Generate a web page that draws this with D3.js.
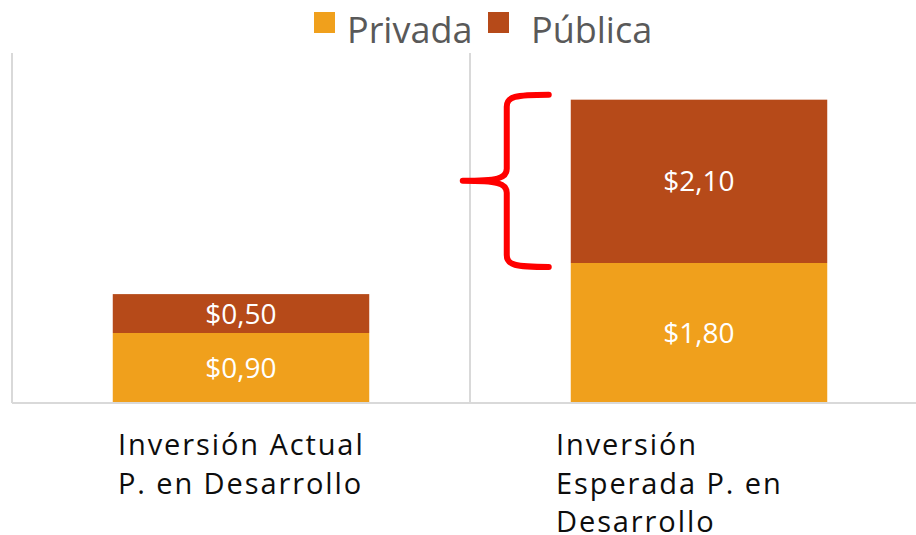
<!DOCTYPE html>
<html>
<head>
<meta charset="utf-8">
<script src="https://cdn.jsdelivr.net/npm/d3@7"></script>
<style>
  body { margin: 0; background: #fff; }
  text { font-family: "Open Sans", sans-serif; }
</style>
</head>
<body>
<svg id="chart"></svg>
<script>
// Chart data
const categories = ["Inversión Actual P. en Desarrollo", "Inversión Esperada P. en Desarrollo"];
const categoryLines = [
  ["Inversión Actual", "P. en Desarrollo"],
  ["Inversión", "Esperada P. en", "Desarrollo"]
];
const seriesNames = ["Privada", "Pública"];
const privada = [0.90, 1.80];
const publica = [0.50, 2.10];
const seriesColors = ["#F0A01C", "#B64A19"];

const width = 916;
const height = 535;
const margin = { top: 53, right: -12, bottom: 132, left: 12 };

const svg = d3.select("#chart")
  .attr("width", width)
  .attr("height", height);

const x = d3.scaleBand()
  .domain(categories)
  .range([margin.left, width - margin.right])
  .padding(0);

const y = d3.scaleLinear()
  .domain([0, 4.5])
  .range([height - margin.bottom, margin.top]);

const barWidth = x.bandwidth() * 0.56;
const fmt = v => "$" + v.toFixed(2).replace(".", ",");

// stacked data
const rows = categories.map((c, i) => ({ cat: c, Privada: privada[i], "Pública": publica[i] }));
const stacked = d3.stack().keys(seriesNames)(rows);

// vertical category separators
const gridX = [margin.left].concat(categories.slice(1).map(c => x(c)));
svg.selectAll("line.grid")
  .data(gridX)
  .join("line")
  .attr("class", "grid")
  .attr("x1", d => d).attr("x2", d => d)
  .attr("y1", y(4.5)).attr("y2", y(0))
  .attr("stroke", "#d9d9d9")
  .attr("stroke-width", 2);

// bars
const layers = svg.selectAll("g.layer")
  .data(stacked)
  .join("g")
  .attr("class", "layer")
  .attr("fill", (d, i) => seriesColors[i]);

layers.selectAll("rect")
  .data(d => d)
  .join("rect")
  .attr("x", d => x(d.data.cat) + (x.bandwidth() - barWidth) / 2)
  .attr("width", barWidth)
  .attr("y", d => y(d[1]))
  .attr("height", d => y(d[0]) - y(d[1]));

// data labels
layers.selectAll("text")
  .data(d => d.map(v => ({ v, key: d.key })))
  .join("text")
  .attr("x", d => x(d.v.data.cat) + x.bandwidth() / 2)
  .attr("y", d => (y(d.v[0]) + y(d.v[1])) / 2)
  .attr("dy", "0.36em")
  .attr("text-anchor", "middle")
  .attr("fill", "#fff")
  .attr("font-size", 28)
  .text(d => fmt(d.v.data[d.key]));

// baseline
svg.append("line")
  .attr("x1", margin.left).attr("x2", width)
  .attr("y1", y(0)).attr("y2", y(0))
  .attr("stroke", "#d9d9d9")
  .attr("stroke-width", 2);

// category labels (left aligned blocks)
const labelLeft = [x(categories[0]) + 106, x(categories[1]) + 86];
categoryLines.forEach((lines, i) => {
  const t = svg.append("text")
    .attr("font-size", 29)
    .attr("letter-spacing", 1.9)
    .attr("fill", "#0d0d0d");
  lines.forEach((ln, j) => {
    t.append("tspan")
      .attr("x", labelLeft[i])
      .attr("y", y(0) + 52 + j * 38.5)
      .text(ln);
  });
});

// legend
const legendItems = [
  { name: seriesNames[0], color: seriesColors[0], sx: 314, tx: 347 },
  { name: seriesNames[1], color: seriesColors[1], sx: 488, tx: 531 }
];
const legend = svg.append("g");
legend.selectAll("rect")
  .data(legendItems)
  .join("rect")
  .attr("x", d => d.sx)
  .attr("y", 12)
  .attr("width", 21)
  .attr("height", 21)
  .attr("fill", d => d.color);
legend.selectAll("text")
  .data(legendItems)
  .join("text")
  .attr("x", d => d.tx)
  .attr("y", 43)
  .attr("font-size", 36)
  .attr("fill", "#595959")
  .text(d => d.name);

// red brace marking the public investment of the second bar
const bx = x(categories[1]) + (x.bandwidth() - barWidth) / 2;
const braceTop = y(privada[1] + publica[1]) - 5;
const braceBot = y(privada[1]) + 4;
const braceMid = (braceTop + braceBot) / 2;
const vx = bx - 64;
const brace = d3.path();
brace.moveTo(bx - 22, braceTop);
brace.bezierCurveTo(vx + 8, braceTop, vx, braceTop + 2, vx, braceTop + 12);
brace.lineTo(vx, braceMid - 12);
brace.bezierCurveTo(vx, braceMid - 2, vx - 10, braceMid, vx - 44, braceMid);
brace.bezierCurveTo(vx - 10, braceMid, vx, braceMid + 2, vx, braceMid + 12);
brace.lineTo(vx, braceBot - 12);
brace.bezierCurveTo(vx, braceBot - 2, vx + 8, braceBot, bx - 22, braceBot);
svg.append("path")
  .attr("d", brace.toString())
  .attr("fill", "none")
  .attr("stroke", "#ff0000")
  .attr("stroke-width", 6)
  .attr("stroke-linecap", "round")
  .attr("stroke-linejoin", "round");
</script>
</body>
</html>
